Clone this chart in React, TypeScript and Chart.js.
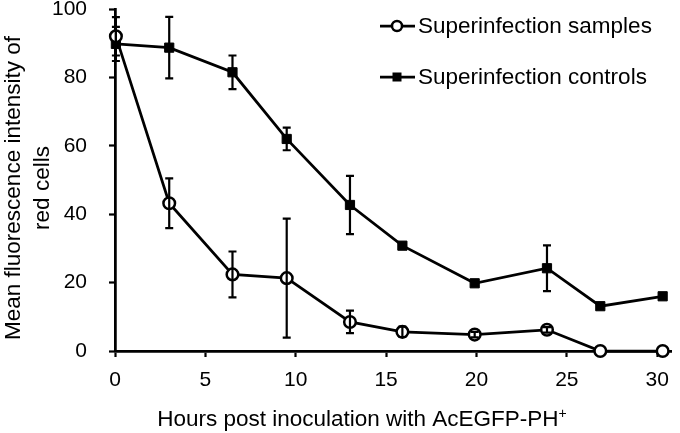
import React, { useEffect, useRef } from 'react';
import { Chart, registerables } from 'chart.js';

Chart.register(...registerables);

const FONT = '"Liberation Sans", Arial, Helvetica, sans-serif';

// Data
const xHours = [0.05, 3.0, 6.5, 9.5, 13.0, 15.9, 19.9, 23.9, 26.85, 30.3];
const samplesMean = [92.0, 43.2, 22.4, 21.3, 8.5, 5.6, 4.8, 6.2, 0, 0];
const samplesErr = [5.6, 7.3, 6.7, 17.4, 3.3, 1.5, 0.8, 0.8, 0, 0];
const controlsMean = [89.8, 88.7, 81.5, 62.0, 42.7, 30.8, 19.8, 24.2, 13.1, 16.0];
const controlsErr = [5.0, 9.0, 4.9, 3.3, 8.5, 0.8, 0.6, 6.7, 0.6, 0.6];
const xTicks = [0, 5, 10, 15, 20, 25, 30];
const yTicks = [0, 20, 40, 60, 80, 100];
const seriesNames = ['Superinfection samples', 'Superinfection controls'];
const xTitle = 'Hours post inoculation with AcEGFP-PH';
const xTitleSup = '+';
const yTitle = ['Mean fluorescence intensity of', 'red cells'];

export default function App() {
  const ref = useRef<HTMLCanvasElement>(null);

  useEffect(() => {
    if (!ref.current) return;

    const errorBars = {
      id: 'errorBars',
      afterDatasetsDraw(chart: any) {
        const { ctx } = chart;
        const x = chart.scales.x;
        const y = chart.scales.y;
        const errs = [samplesErr, controlsErr];
        const means = [samplesMean, controlsMean];
        ctx.save();
        ctx.strokeStyle = '#000';
        ctx.lineWidth = 2.2;
        for (let d = 0; d < 2; d++) {
          for (let i = 0; i < xHours.length; i++) {
            const e = errs[d][i];
            if (!e) continue;
            const px = x.getPixelForValue(xHours[i]);
            const top = y.getPixelForValue(means[d][i] + e);
            const bot = y.getPixelForValue(means[d][i] - e);
            ctx.beginPath();
            ctx.moveTo(px, top);
            ctx.lineTo(px, bot);
            ctx.moveTo(px - 4, top);
            ctx.lineTo(px + 4, top);
            ctx.moveTo(px - 4, bot);
            ctx.lineTo(px + 4, bot);
            ctx.stroke();
          }
        }
        ctx.restore();
      },
    };

    const textPlugin = {
      id: 'textPlugin',
      afterDraw(chart: any) {
        const { ctx } = chart;
        ctx.save();
        // legend
        const rows = [26, 77];
        for (let i = 0; i < 2; i++) {
          const cy = rows[i];
          ctx.strokeStyle = '#000';
          ctx.lineWidth = 2.75;
          ctx.beginPath();
          ctx.moveTo(380, cy);
          ctx.lineTo(415, cy);
          ctx.stroke();
          if (i === 0) {
            ctx.beginPath();
            ctx.arc(397, cy, 5, 0, Math.PI * 2);
            ctx.fillStyle = '#fff';
            ctx.fill();
            ctx.lineWidth = 2.5;
            ctx.stroke();
          } else {
            ctx.fillStyle = '#000';
            ctx.fillRect(397 - 4.5, cy - 4.5, 9, 9);
          }
          ctx.fillStyle = '#000';
          ctx.font = `22.5px ${FONT}`;
          ctx.textAlign = 'left';
          ctx.textBaseline = 'middle';
          ctx.fillText(seriesNames[i], 418, cy + 1);
        }
        // x axis title
        ctx.fillStyle = '#000';
        ctx.font = `22.5px ${FONT}`;
        ctx.textBaseline = 'alphabetic';
        ctx.textAlign = 'left';
        const w = ctx.measureText(xTitle).width;
        ctx.font = `14px ${FONT}`;
        const ws = ctx.measureText(xTitleSup).width;
        const startX = 362 - (w + ws) / 2;
        ctx.font = `22.5px ${FONT}`;
        ctx.fillText(xTitle, startX, 426);
        ctx.font = `14px ${FONT}`;
        ctx.fillText(xTitleSup, startX + w, 418);
        // y axis title (two lines, rotated)
        ctx.font = `22.5px ${FONT}`;
        ctx.textAlign = 'center';
        ctx.textBaseline = 'middle';
        const lineX = [14, 43];
        for (let i = 0; i < yTitle.length; i++) {
          ctx.save();
          ctx.translate(lineX[i], 188);
          ctx.rotate(-Math.PI / 2);
          ctx.fillText(yTitle[i], 0, 0);
          ctx.restore();
        }
        ctx.restore();
      },
    };

    const chart = new Chart(ref.current, {
      type: 'line',
      data: {
        datasets: [
          {
            label: seriesNames[0],
            data: xHours.map((h, i) => ({ x: h, y: samplesMean[i] })),
            borderColor: '#000',
            borderWidth: 2.75,
            pointStyle: 'circle',
            pointRadius: 5.8,
            pointBorderWidth: 2.5,
            pointBackgroundColor: '#fff',
            pointBorderColor: '#000',
            tension: 0,
            clip: false,
          },
          {
            label: seriesNames[1],
            data: xHours.map((h, i) => ({ x: h, y: controlsMean[i] })),
            borderColor: '#000',
            borderWidth: 2.75,
            pointStyle: 'rect',
            pointRadius: 6.5,
            pointBorderWidth: 1,
            pointBackgroundColor: '#000',
            pointBorderColor: '#000',
            tension: 0,
            clip: false,
          },
        ],
      },
      options: {
        animation: false,
        responsive: true,
        maintainAspectRatio: false,
        layout: { padding: { top: 9, right: 3, bottom: 39, left: 30 } },
        plugins: { legend: { display: false }, tooltip: { enabled: false } },
        scales: {
          x: {
            type: 'linear',
            min: 0,
            max: 30.8,
            afterBuildTicks: (s: any) => {
              s.ticks = xTicks.map((v) => ({ value: v }));
            },
            afterFit: (s: any) => {
              s.height = 43;
              s.paddingLeft = 0;
              s.paddingRight = 0;
            },
            grid: {
              display: true,
              drawOnChartArea: false,
              drawTicks: true,
              tickLength: 6,
              tickColor: '#000',
              tickWidth: 2.2,
            },
            border: { display: true, color: '#000', width: 2.75 },
            ticks: {
              color: '#000',
              font: { family: FONT, size: 21, lineHeight: 1.2 },
              padding: 11,
              maxRotation: 0,
              autoSkip: false,
            },
            title: { display: false },
          },
          y: {
            type: 'linear',
            min: 0,
            max: 100,
            afterBuildTicks: (s: any) => {
              s.ticks = yTicks.map((v) => ({ value: v }));
            },
            afterFit: (s: any) => {
              s.width = 85;
              s.paddingTop = 0;
              s.paddingBottom = 0;
            },
            grid: {
              display: true,
              drawOnChartArea: false,
              drawTicks: true,
              tickLength: 6,
              tickColor: '#000',
              tickWidth: 2.2,
            },
            border: { display: true, color: '#000', width: 2.75 },
            ticks: {
              color: '#000',
              font: { family: FONT, size: 21, lineHeight: 0.85 },
              padding: 22,
            },
            title: { display: false },
          },
        },
      },
      plugins: [errorBars, textPlugin],
    });

    return () => chart.destroy();
  }, []);

  return (
    <div style={{ position: 'fixed', left: 0, top: 0, width: 680, height: 433, background: '#fff' }}>
      <canvas ref={ref} />
    </div>
  );
}
